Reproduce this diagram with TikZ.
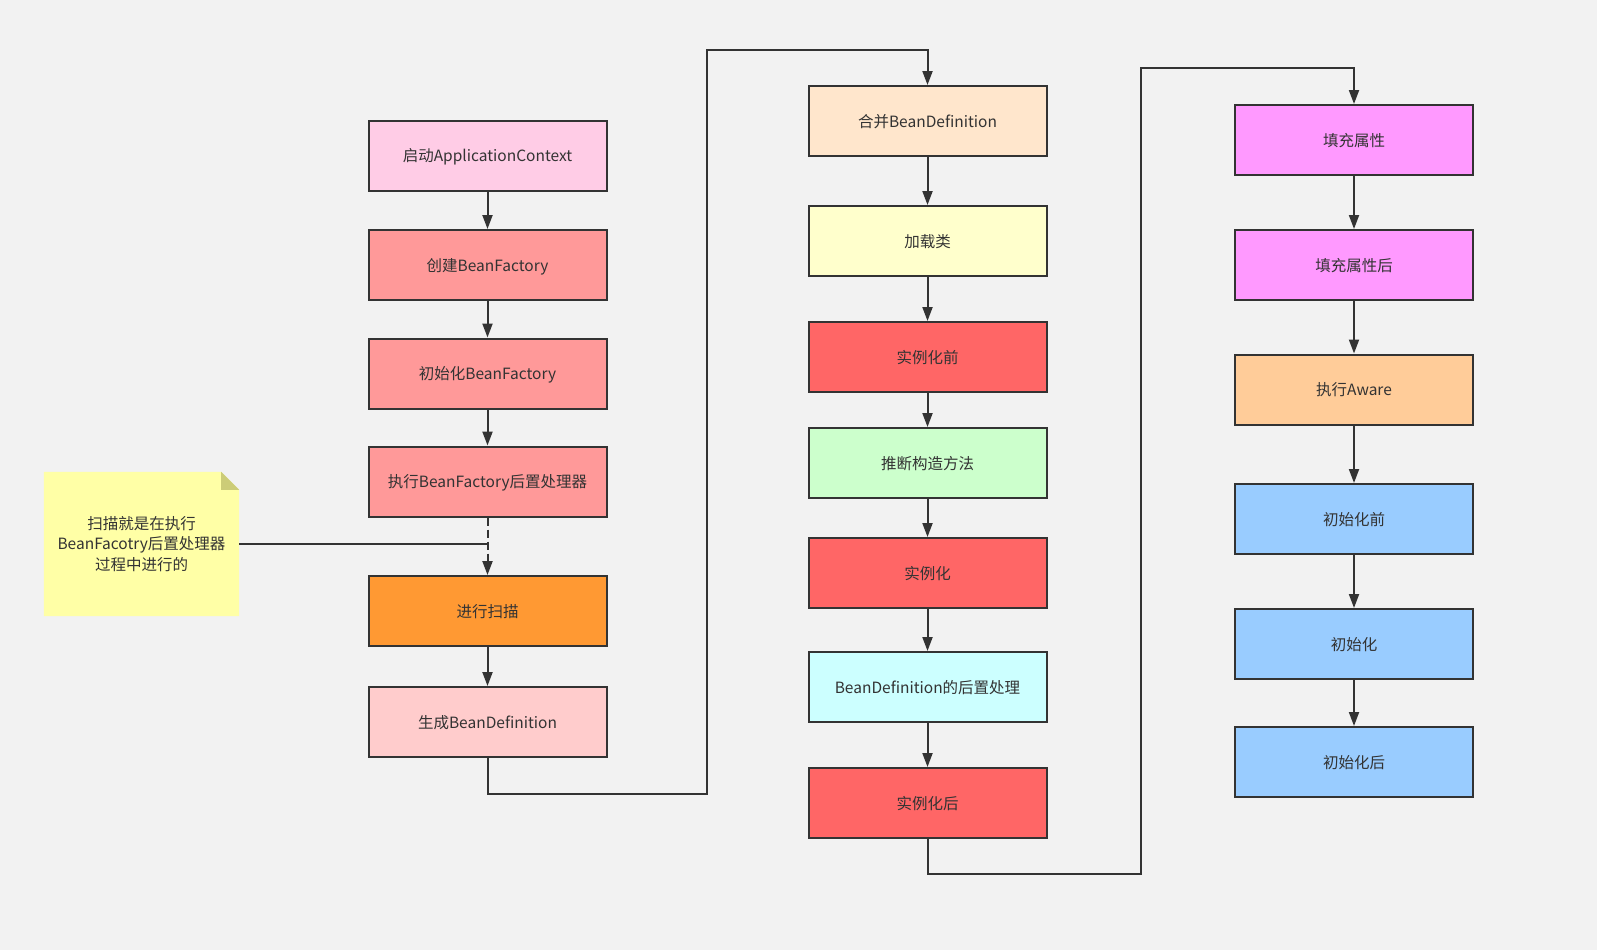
\documentclass[tikz,border=0pt]{standalone}
\usepackage{fontspec}
\setmainfont{Noto Sans CJK SC}
\usetikzlibrary{positioning, arrows.meta, calc}
\definecolor{bgc}{HTML}{F2F2F2}
\definecolor{ln}{HTML}{333333}
\definecolor{cPink}{HTML}{FFCCE6}
\definecolor{cRose}{HTML}{FF9999}
\definecolor{cOrange}{HTML}{FF9933}
\definecolor{cBlush}{HTML}{FFCCCC}
\definecolor{cPeach}{HTML}{FFE6CC}
\definecolor{cCream}{HTML}{FFFFCC}
\definecolor{cRed}{HTML}{FF6666}
\definecolor{cMint}{HTML}{CCFFCC}
\definecolor{cCyan}{HTML}{CCFFFF}
\definecolor{cMagenta}{HTML}{FF99FF}
\definecolor{cApricot}{HTML}{FFCC99}
\definecolor{cSky}{HTML}{99CCFF}
\definecolor{cNote}{HTML}{FFFFA6}
\definecolor{cFold}{HTML}{CCCC77}
\tikzset{
  box/.style  = {draw=ln, fill=#1, rectangle, line width=2pt, inner sep=0pt,
                 minimum width=238pt, minimum height=70pt, text=ln,
                 text height=13pt, text depth=1pt,
                 font=\fontsize{15.5}{18}\selectfont},
  ar/.style   = {-{Triangle[length=14pt, width=10pt]}, draw=ln, line width=2pt},
  dashln/.style = {dash pattern=on 8pt off 4pt},
  memo/.style = {rectangle, inner sep=0pt, minimum width=195pt, minimum height=144pt,
                 align=center, text=ln, font=\fontsize{15.5}{20.5}\selectfont},
}
\begin{document}
\begin{tikzpicture}[x=1pt, y=-1pt]
  \fill[bgc] (0,0) rectangle (1597,950);
  \useasboundingbox (0,0) rectangle (1597,950);
  % scan phase
  \node[box=cPink]   (b1) at (487.5,155.5) {启动ApplicationContext};
  \node[box=cRose]   (b2) at (487.5,265)   {创建BeanFactory};
  \node[box=cRose]   (b3) at (487.5,373.5) {初始化BeanFactory};
  \node[box=cRose]   (b4) at (487.5,481.5) {执行BeanFactory后置处理器};
  \node[box=cOrange] (b5) at (487.5,611)   {进行扫描};
  \node[box=cBlush]  (b6) at (487.5,722)   {生成BeanDefinition};
  % creation phase
  \node[box=cPeach]  (c1) at (927.5,121)   {合并BeanDefinition};
  \node[box=cCream]  (c2) at (927.5,241)   {加载类};
  \node[box=cRed]    (c3) at (927.5,357)   {实例化前};
  \node[box=cMint]   (c4) at (927.5,463)   {推断构造方法};
  \node[box=cRed]    (c5) at (927.5,573)   {实例化};
  \node[box=cCyan]   (c6) at (927.5,687)   {BeanDefinition的后置处理};
  \node[box=cRed]    (c7) at (927.5,803)   {实例化后};
  % init phase
  \node[box=cMagenta] (d1) at (1354,140)   {填充属性};
  \node[box=cMagenta] (d2) at (1354,265)   {填充属性后};
  \node[box=cApricot] (d3) at (1354,389.5) {执行Aware};
  \node[box=cSky]     (d4) at (1354,519)   {初始化前};
  \node[box=cSky]     (d5) at (1354,644)   {初始化};
  \node[box=cSky]     (d6) at (1354,762)   {初始化后};
  % note
  \node[memo] (memo) at (141.5,544) {};
  \fill[cNote] (memo.north west) -- ($(memo.north east)+(-18,0)$)
    -- ($(memo.north east)+(0,18)$) -- (memo.south east) -- (memo.south west) -- cycle;
  \fill[cFold] ($(memo.north east)+(-18,0)$) -- ($(memo.north east)+(0,18)$)
    -- ($(memo.north east)+(-18,18)$) -- cycle;
  \node[memo] at (memo.center) {扫描就是在执行\\BeanFacotry后置处理器\\过程中进行的};
  % arrows
  \foreach \a/\b in {b1/b2, b2/b3, b3/b4, b5/b6, c1/c2, c2/c3, c3/c4, c4/c5,
                     c5/c6, c6/c7, d1/d2, d2/d3, d3/d4, d4/d5, d5/d6}
    \draw[ar] (\a) -- (\b);
  \draw[ar, dashln] (b4) -- (b5);
  \coordinate (hook) at (b4.south |- memo.east);
  \draw[draw=ln, line width=2pt] (memo.east) -- (hook);
  \draw[ar] (b6.south) -- ++(0,36) -| (707,50) -| (c1.north);
  \draw[ar] (c7.south) -- ++(0,35) -| (1141,68) -| (d1.north);
\end{tikzpicture}
\end{document}
